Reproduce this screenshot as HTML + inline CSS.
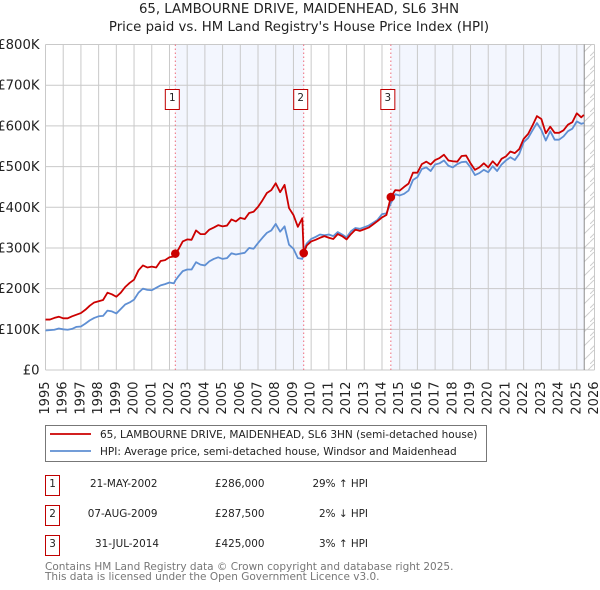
<!DOCTYPE html>
<html lang="en">
<head>
<meta charset="utf-8">
<title>65, Lambourne Drive price chart</title>
<style>
html,body{margin:0;padding:0;background:#fff;}
svg{display:block;font-family:"DejaVu Sans",sans-serif;}
</style>
</head>
<body>
<svg id="chart" width="600" height="590" viewBox="0 0 600 590" xmlns="http://www.w3.org/2000/svg">
  <defs>
    <pattern id="hatch" width="10" height="14" patternUnits="userSpaceOnUse">
      <line x1="0" y1="14" x2="10" y2="4" stroke="#cfcfcf" stroke-width="1"></line>
      <line x1="0" y1="4" x2="4" y2="0" stroke="#cfcfcf" stroke-width="1"></line>
    </pattern>
  </defs>
  <g text-anchor="middle" fill="#222" font-size="13.3">
    <text x="299" y="13">65, LAMBOURNE DRIVE, MAIDENHEAD, SL6 3HN</text>
    <text x="299" y="31">Price paid vs. HM Land Registry's House Price Index (HPI)</text>
  </g>
  <g id="plot"></g>

  <g>
    <rect x="45.5" y="425.5" width="441" height="36" fill="#fff" stroke="#777" stroke-width="1"></rect>
    <line x1="50" y1="434" x2="91" y2="434" stroke="#cc0000" stroke-width="1.8"></line>
    <text x="100" y="438" font-size="10.5" fill="#222">65, LAMBOURNE DRIVE, MAIDENHEAD, SL6 3HN (semi-detached house)</text>
    <line x1="50" y1="451" x2="91" y2="451" stroke="#5f8fd3" stroke-width="1.8"></line>
    <text x="100" y="455" font-size="10.5" fill="#222">HPI: Average price, semi-detached house, Windsor and Maidenhead</text>
  </g>

  <g font-size="10.4" fill="#222">
    <g>
      <rect x="45.5" y="475.5" width="14" height="20" fill="#fff" stroke="#c00000"></rect>
      <text x="52.5" y="487" text-anchor="middle">1</text>
      <text x="157.5" y="487" text-anchor="end">21-MAY-2002</text>
      <text x="264.5" y="487" text-anchor="end">£286,000</text>
      <text x="368" y="487" text-anchor="end">29% ↑ HPI</text>
    </g>
    <g>
      <rect x="45.5" y="505.5" width="14" height="20" fill="#fff" stroke="#c00000"></rect>
      <text x="52.5" y="517" text-anchor="middle">2</text>
      <text x="157.5" y="517" text-anchor="end">07-AUG-2009</text>
      <text x="264.5" y="517" text-anchor="end">£287,500</text>
      <text x="368" y="517" text-anchor="end">2% ↓ HPI</text>
    </g>
    <g>
      <rect x="45.5" y="535.5" width="14" height="20" fill="#fff" stroke="#c00000"></rect>
      <text x="52.5" y="547" text-anchor="middle">3</text>
      <text x="159" y="547" text-anchor="end">31-JUL-2014</text>
      <text x="264.5" y="547" text-anchor="end">£425,000</text>
      <text x="368" y="547" text-anchor="end">3% ↑ HPI</text>
    </g>
  </g>

  <g font-size="10.5" fill="#777">
    <text x="45" y="570">Contains HM Land Registry data © Crown copyright and database right 2025.</text>
    <text x="45" y="580">This data is licensed under the Open Government Licence v3.0.</text>
  </g>
</svg>
<script>
const yearTicks = [1995,1996,1997,1998,1999,2000,2001,2002,2003,2004,2005,2006,2007,2008,2009,2010,2011,2012,2013,2014,2015,2016,2017,2018,2019,2020,2021,2022,2023,2024,2025,2026];
const priceTicks = [0,100,200,300,400,500,600,700,800];
const priceTickLabels = ['£0','£100K','£200K','£300K','£400K','£500K','£600K','£700K','£800K'];

const dates = [
1995,1995.25,1995.5,1995.75,
1996,1996.25,1996.5,1996.75,
1997,1997.25,1997.5,1997.75,
1998,1998.25,1998.5,1998.75,
1999,1999.25,1999.5,1999.75,
2000,2000.25,2000.5,2000.75,
2001,2001.25,2001.5,2001.75,
2002,2002.25,2002.33,2002.5,2002.75,
2003,2003.25,2003.5,2003.75,
2004,2004.25,2004.5,2004.75,
2005,2005.25,2005.5,2005.75,
2006,2006.25,2006.5,2006.75,
2007,2007.25,2007.5,2007.75,
2008,2008.25,2008.5,2008.75,
2009,2009.25,2009.5,2009.58,2009.75,
2010,2010.25,2010.5,2010.75,
2011,2011.25,2011.5,2011.75,
2012,2012.25,2012.5,2012.75,
2013,2013.25,2013.5,2013.75,
2014,2014.25,2014.5,2014.75,
2015,2015.25,2015.5,2015.75,
2016,2016.25,2016.5,2016.75,
2017,2017.25,2017.5,2017.75,
2018,2018.25,2018.5,2018.75,
2019,2019.25,2019.5,2019.75,
2020,2020.25,2020.5,2020.75,
2021,2021.25,2021.5,2021.75,
2022,2022.25,2022.5,2022.75,
2023,2023.25,2023.5,2023.75,
2024,2024.25,2024.5,2024.75,
2025,2025.25,2025.4];

const pricePaid = [
124,124,128,131,
127,127,132,136,
140,148,158,166,
169,172,190,186,
180,190,204,214,
222,245,257,252,
254,252,268,270,
277,279,286,296,316,
321,320,343,334,
334,345,350,356,
353,355,370,365,
374,371,386,389,
401,417,435,442,
459,437,455,398,
381,352,373,287.5,306,
316,320,325,329,
325,322,334,329,
321,334,345,342,
346,350,358,366,
375,381,425,442,
441,450,458,485,
485,506,512,505,
516,521,529,515,
513,512,526,527,
508,492,498,508,
498,513,502,519,
525,537,533,543,
568,580,601,624,
617,582,598,583,
583,589,603,609,
631,621,627];

const hpi = [
97,98,99,102,
100,99,101,106,
107,114,122,128,
132,133,146,144,
139,150,161,166,
173,190,200,197,
196,202,208,211,
215,213,220,230,243,
247,247,265,259,
257,267,273,277,
273,275,287,284,
286,288,300,298,
312,325,337,343,
359,340,353,308,
298,275,273,292,311,
322,327,333,331,
333,329,339,333,
326,341,349,347,
351,355,362,369,
383,385,410,432,
429,433,441,467,
474,494,498,489,
505,508,515,502,
498,506,511,512,
498,479,484,492,
486,501,489,505,
515,523,516,531,
560,570,589,607,
590,564,587,566,
566,574,587,593,
611,605,607];

const saleDates = [2002.33,2009.58,2014.5];
const salePrices = [286,287.5,425];
const saleLabels = ['1','2','3'];
const dataEnd = 2025.42;

const plot = document.getElementById('plot');
const NS = 'http://www.w3.org/2000/svg';
const x0 = 45.5, x1 = 594.5, yBottom = 370, yTop = 44.5;
const x = d => x0 + (d - 1995) / 31 * (x1 - x0);
const y = v => yBottom - v / 800 * (yBottom - yTop);

function make(tag, attrs, parent) {
  const el = document.createElementNS(NS, tag);
  Object.keys(attrs).forEach(k => el.setAttribute(k, attrs[k]));
  (parent || plot).appendChild(el);
  return el;
}

const band1 = make('rect', {x: x(saleDates[0]), y: yTop, width: x(saleDates[1]) - x(saleDates[0]), height: yBottom - yTop, fill: '#f3f6fe'});


const band2 = make('rect', {x: x(saleDates[2]), y: yTop, width: x(dataEnd) - x(saleDates[2]), height: yBottom - yTop, fill: '#f3f6fe'});


const hatchRect = make('rect', {x: x(dataEnd), y: yTop, width: x1 - x(dataEnd), height: yBottom - yTop, fill: 'url(#hatch)'});



yearTicks.forEach(t => {
  const g = make('line', {x1: x(t), x2: x(t), y1: yTop, y2: yBottom, stroke: '#c9c9c9', 'stroke-width': 1});
  
  
  const px = x(t);
  const label = make('text', {x: px, y: 381.5, 'font-size': 13, fill: '#222', 'text-anchor': 'end', 'dominant-baseline': 'central', transform: 'rotate(-90 ' + px + ' 381.5)'});
  
  
  label.textContent = t;
});

priceTicks.forEach((t, i) => {
  const g = make('line', {x1: x0, x2: x1, y1: y(t), y2: y(t), stroke: '#c9c9c9', 'stroke-width': 1});
  
  
  const label = make('text', {x: 39.5, y: y(t) + 4.5, 'font-size': 13.2, fill: '#222', 'text-anchor': 'end'});
  
  
  label.textContent = priceTickLabels[i];
});

const endLine = make('line', {x1: x(dataEnd), x2: x(dataEnd), y1: yTop, y2: yBottom, stroke: '#8c8c8c', 'stroke-width': 1});



saleDates.forEach(d => {
  const l = make('line', {x1: x(d), x2: x(d), y1: yTop, y2: yBottom, stroke: '#ee6c7c', 'stroke-width': 1, 'stroke-dasharray': '1.5 2.5'});
  
  
});

const toPath = vals => vals.map((v, i) => (i ? 'L' : 'M') + x(dates[i]).toFixed(2) + ' ' + y(v).toFixed(2)).join(' ');

const hpiLine = make('path', {d: toPath(hpi), fill: 'none', stroke: '#5f8fd3', 'stroke-width': 1.8, 'stroke-linejoin': 'round'});


const priceLine = make('path', {d: toPath(pricePaid), fill: 'none', stroke: '#cc0000', 'stroke-width': 1.8, 'stroke-linejoin': 'round'});



saleDates.forEach((d, i) => {
  const dot = make('circle', {cx: x(d), cy: y(salePrices[i]), r: 4.3, fill: '#cc0000'});
  
  
  const box = make('rect', {x: x(d) - 10, y: 89.5, width: 14, height: 20, fill: '#fff', stroke: '#c00000', 'stroke-width': 1});
  
  
  const num = make('text', {x: x(d) - 3, y: 101, 'font-size': 10.4, fill: '#222', 'text-anchor': 'middle'});
  
  
  num.textContent = saleLabels[i];
});
</script>
</body>
</html>
